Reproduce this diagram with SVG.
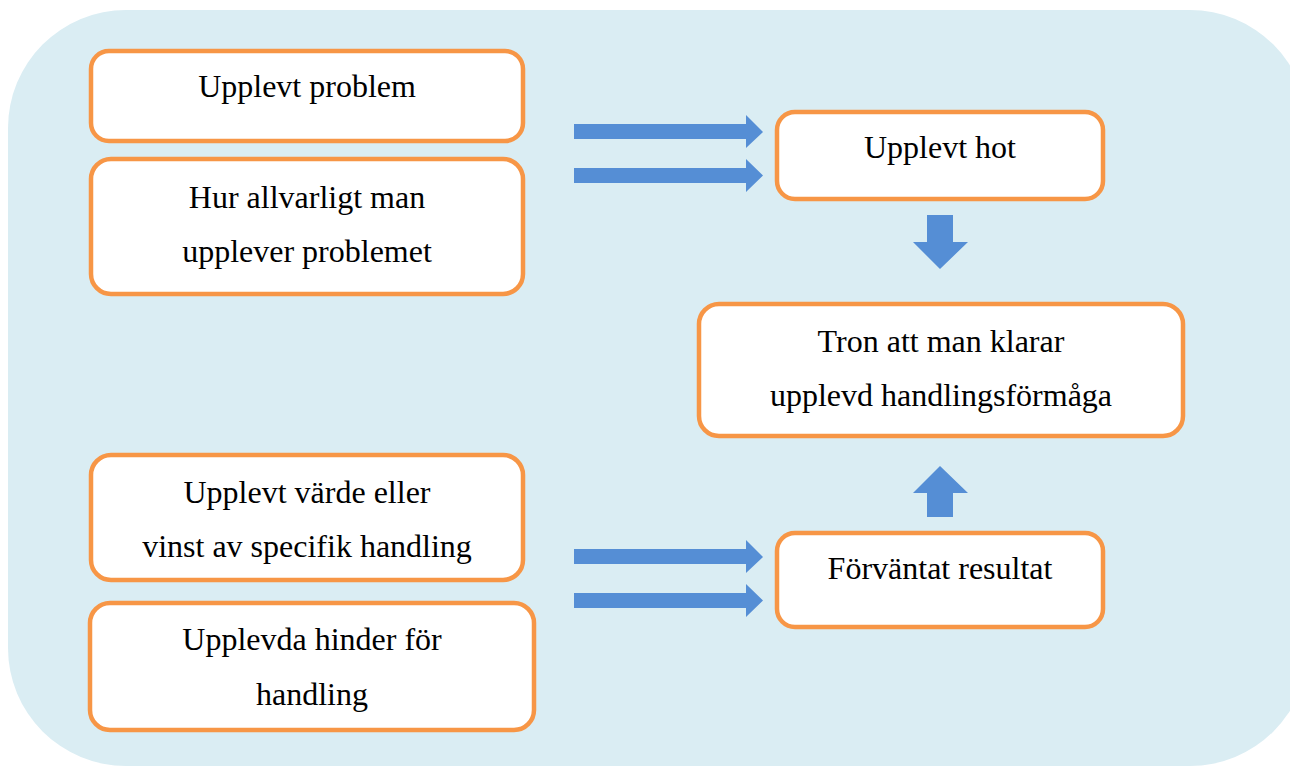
<svg xmlns="http://www.w3.org/2000/svg" width="1290" height="767" viewBox="0 0 1290 767">
<style>
.node rect{fill:#FFFFFF;stroke:#F79646;stroke-width:4.5}
text{font-family:"Liberation Serif","Times New Roman",serif;font-size:32px;fill:#000;text-anchor:middle}
.arr{fill:#558ED5}
</style>
<rect x="8" y="10" width="1300" height="756" rx="118" ry="118" fill="#DAEDF3"/>
<g id="connectors">
<polygon class="arr" points="574,124 746,124 746,115 763,132 746,148 746,139 574,139"/>
<polygon class="arr" points="574,168 746,168 746,159 763,175.5 746,192 746,183 574,183"/>
<polygon class="arr" points="574,549 746,549 746,540 763,557 746,573 746,564 574,564"/>
<polygon class="arr" points="574,593 746,593 746,584 763,600.5 746,617 746,608 574,608"/>
<polygon class="arr" points="927,215 953,215 953,242 968,242 940,269 913,242 927,242"/>
<polygon class="arr" points="927,517 953,517 953,493 968,493 940,466 913,493 927,493"/>
</g>
<g id="n1" class="node"><rect x="91" y="51" width="432" height="90" rx="18"/><text x="307" y="97">Upplevt problem</text></g>
<g id="n2" class="node"><rect x="91" y="159" width="432" height="135" rx="20"/><text x="307" y="208">Hur allvarligt man</text><text x="307" y="262">upplever problemet</text></g>
<g id="n3" class="node"><rect x="777" y="112" width="326" height="87" rx="18"/><text x="940" y="158">Upplevt hot</text></g>
<g id="n4" class="node"><rect x="699" y="304" width="484" height="132" rx="20"/><text x="941" y="352">Tron att man klarar</text><text x="941" y="406">upplevd handlingsförmåga</text></g>
<g id="n5" class="node"><rect x="91" y="455" width="432" height="125" rx="20"/><text x="307" y="503">Upplevt värde eller</text><text x="307" y="557">vinst av specifik handling</text></g>
<g id="n6" class="node"><rect x="90" y="603" width="444" height="127" rx="20"/><text x="312" y="650">Upplevda hinder för</text><text x="312" y="705">handling</text></g>
<g id="n7" class="node"><rect x="777" y="533" width="326" height="94" rx="18"/><text x="940" y="579">Förväntat resultat</text></g>
</svg>
